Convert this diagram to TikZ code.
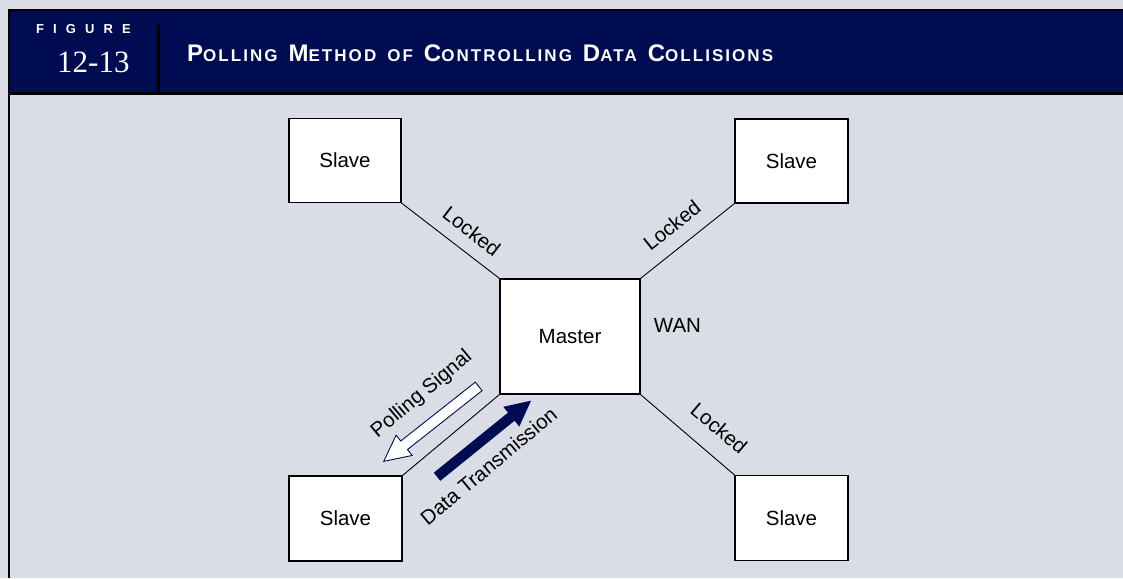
\documentclass[tikz,border=0pt]{standalone}
\usepackage{fontspec}
\setmainfont{Liberation Sans}
\newfontfamily\numfont{Liberation Serif}
\usetikzlibrary{positioning,shapes.arrows}
\definecolor{navy}{RGB}{0,12,82}
\definecolor{panel}{RGB}{218,221,230}
\newcommand\hsc[2]{{\fontsize{24}{24}\selectfont #1}{\fontsize{17}{17}\selectfont #2}}
\newcommand\gap{\hspace{11pt}}

\begin{document}
\begin{tikzpicture}[x=1pt,y=1pt,
  box/.style={draw, fill=white, line width=1.2pt, inner sep=0pt,
    minimum width=112pt, minimum height=84pt, font=\fontsize{20.5}{20.5}\selectfont},
  lbl/.style={inner sep=0pt, font=\fontsize{20.5}{20.5}\selectfont},
  link/.style={line width=0.9pt},
  bigarrow/.style={single arrow, inner xsep=0pt, inner ysep=5pt,
    single arrow head extend=7.5pt, single arrow tip angle=53, minimum height=121pt}]
  % panel and header band
  \fill[panel] (0,0) rectangle (1123,-578);
  \useasboundingbox (0,0) rectangle (1123,-578);
  \fill[navy] (9,-10) rectangle (1123,-93);
  \draw[line width=2.4pt] (1123,-10) -- (9,-10) -- (9,-578);
  \draw[line width=2.4pt] (9,-93.5) -- (1123,-93.5);
  \draw[line width=2.6pt] (158.5,-24) -- (158.5,-93);
  \node[anchor=base west, inner sep=0pt, text=white,
    font=\fontsize{13}{13}\selectfont\bfseries\addfontfeature{LetterSpace=70}]
    (fig) at (36,-34) {FIGURE};
  \node[anchor=base west, inner sep=0pt, text=white,
    font=\fontsize{31}{31}\selectfont\numfont] (num) at (57,-72) {12-13};
  \node[anchor=base west, inner sep=0pt, text=white,
    font=\bfseries\addfontfeature{LetterSpace=12}] (title) at (187,-62)
    {\hsc{P}{OLLING}\gap\hsc{M}{ETHOD}\gap\hsc{}{OF}\gap\hsc{C}{ONTROLLING}\gap\hsc{D}{ATA}\gap\hsc{C}{OLLISIONS}};
  % master and slaves
  \node[box, minimum width=140pt, minimum height=115pt] (m) at (570,-336.5) {Master};
  \node[box] (s1) at (345,-160.5) {Slave};
  \node[box, minimum width=113pt] (s2) at (791.5,-161) {Slave};
  \node[box, minimum width=113pt, minimum height=85pt] (s3) at (345.5,-518.5) {Slave};
  \node[box, minimum width=113pt, minimum height=85pt] (s4) at (791.5,-518) {Slave};
  \node[lbl] (wan) at (677.5,-325) {WAN};
  % links
  \draw[link] (s1.south east) -- node[lbl, pos=0.59, sloped, above=12.5pt] {Locked} (m.north west);
  \draw[link] (m.north east) -- node[lbl, pos=0.48, sloped, above=14pt] {Locked} (s2.south west);
  \draw[link] (m.south east) -- node[lbl, pos=0.66, sloped, above=17.5pt] {Locked} (s4.north west);
  \draw[link] (s3.north east)
    -- node[lbl, pos=0.53, sloped, above=40pt] {Polling Signal}
       node[lbl, pos=0.57, sloped, below=40pt] {Data Transmission} (m.south west);
  % signal arrows
  \node[bigarrow, draw=navy, line width=0.9pt, fill=white, rotate=218.3] (poll) at (435.5,-420.5) {};
  \node[bigarrow, fill=navy, rotate=39] (data) at (480,-442) {};
\end{tikzpicture}
\end{document}
